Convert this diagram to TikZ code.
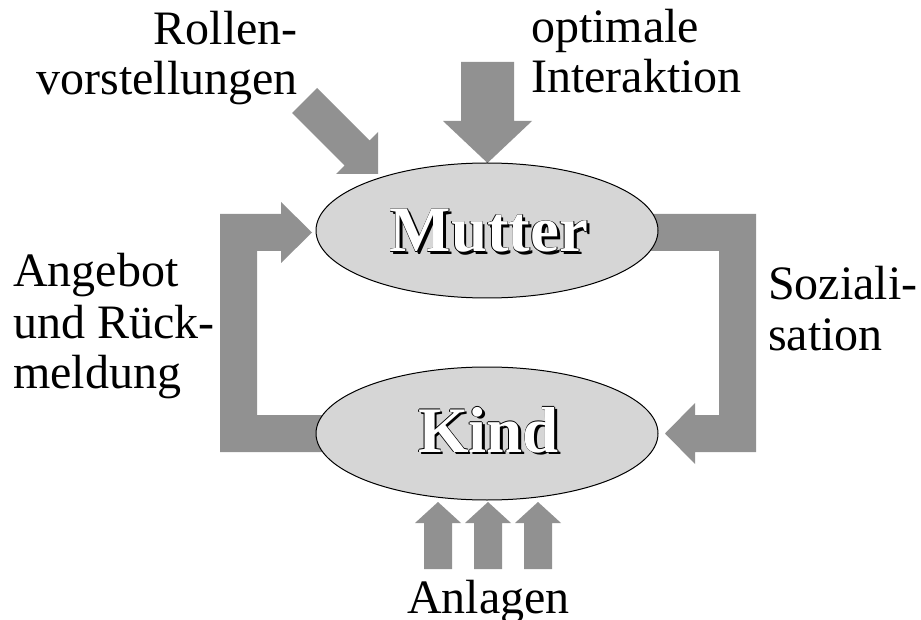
\documentclass[tikz,border=0pt]{standalone}
\usepackage{fontspec}
\setmainfont{Liberation Serif}
\definecolor{arrowgray}{HTML}{919191}
\definecolor{ellgray}{HTML}{D6D6D6}
\newcommand{\shiftcopy}[3]{\makebox[0pt][l]{\kern#1\raisebox{#2}{\color{black}#3}}}
\newcommand{\shadowword}[1]{%
  \shiftcopy{2.6pt}{-2.6pt}{#1}\shiftcopy{-0.7pt}{0pt}{#1}\shiftcopy{0.7pt}{0pt}{#1}%
  \shiftcopy{0pt}{0.7pt}{#1}\shiftcopy{0pt}{-0.7pt}{#1}{\color{white}#1}}
\begin{document}
\begin{tikzpicture}[x=1pt,y=-1pt,
  blockarrow/.style={fill=arrowgray,draw=none},
  ell/.style={draw=black,line width=1pt,fill=ellgray},
  lbl/.style={inner sep=0pt,font=\fontsize{48}{50}\selectfont},
  bigw/.style={inner sep=0pt,anchor=base,font=\fontsize{65}{70}\selectfont\bfseries}]
\useasboundingbox[fill=white] (0,0) rectangle (921,620);

% feedback loop arrows (behind ellipses)
\fill[blockarrow] (400,452) -- (220,452) -- (220,214) -- (281,214) -- (281,202)
  -- (312,232.5) -- (281,263) -- (281,251) -- (257,251) -- (257,415) -- (400,415) -- cycle;
\fill[blockarrow] (580,214) -- (756,214) -- (756,452) -- (695,452) -- (695,464)
  -- (665,433.5) -- (695,403) -- (695,415) -- (719,415) -- (719,251) -- (580,251) -- cycle;

% top arrows
\fill[blockarrow] (292,113) -- (317,88) -- (369.5,140.5) -- (378,132) -- (378,174)
  -- (336,174) -- (344.5,165.5) -- cycle;
\fill[blockarrow] (461,62) -- (514,62) -- (514,121) -- (532,121) -- (487.5,163)
  -- (443,121) -- (461,121) -- cycle;

% bottom arrows
\foreach \cx in {438,488,538}{
  \fill[blockarrow] (\cx-14,569) -- (\cx-14,523) -- (\cx-23,523) -- (\cx,502)
    -- (\cx+23,523) -- (\cx+14,523) -- (\cx+14,569) -- cycle;
}

% ellipses
\draw[ell] (487,230.5) ellipse [x radius=171, y radius=67.5];
\draw[ell] (487,433.5) ellipse [x radius=171, y radius=66.5];

% ellipse labels with shadow
\node[bigw] (mutter) at (489,252) {\shadowword{Mutter}};
\node[bigw] (kind) at (488.5,452) {\shadowword{Kind}};

% labels
\node[lbl,anchor=base east] (rol1) at (298,45) {Rollen-};
\node[lbl,anchor=base east] (rol2) at (298,95) {vorstellungen};
\node[lbl,anchor=base west] (opt1) at (531,43) {optimale};
\node[lbl,anchor=base west] (opt2) at (531,93) {Interaktion};
\node[lbl,anchor=base west] (ang1) at (13,287) {Angebot};
\node[lbl,anchor=base west] (ang2) at (13,338) {und Rück-};
\node[lbl,anchor=base west] (ang3) at (13,388) {meldung};
\node[lbl,anchor=base west] (soz1) at (768,300) {Soziali-};
\node[lbl,anchor=base west] (soz2) at (768,350) {sation};
\node[lbl,anchor=base] (anl) at (488.5,613) {Anlagen};
\end{tikzpicture}
\end{document}
